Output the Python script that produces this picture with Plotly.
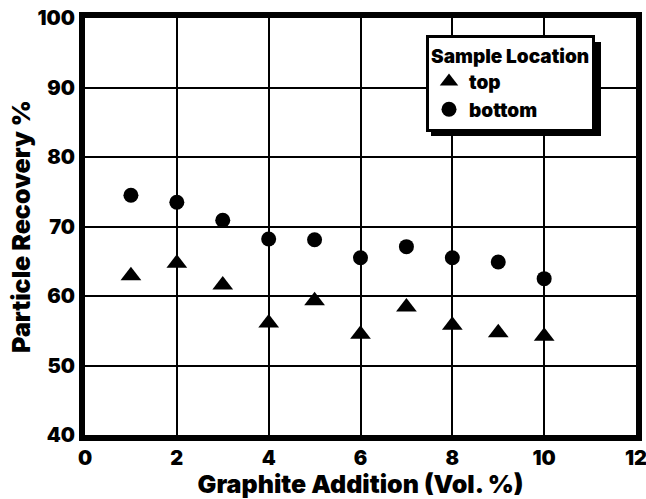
import plotly.graph_objects as go

graphite = [1, 2, 3, 4, 5, 6, 7, 8, 9, 10]
top_recovery = [62.9, 64.7, 61.6, 56.1, 59.3, 54.5, 58.4, 55.8, 54.7, 54.2]
bottom_recovery = [74.5, 73.5, 70.9, 68.2, 68.1, 65.5, 67.1, 65.5, 64.9, 62.5]
x_ticks = [0, 2, 4, 6, 8, 10, 12]
y_ticks = [40, 50, 60, 70, 80, 90, 100]

FONT = "Inter, DejaVu Sans, Liberation Sans, Arial, sans-serif"
W8 = 900

fig = go.Figure()
fig.add_trace(go.Scatter(
    x=graphite, y=top_recovery, mode="markers", name="top",
    marker=dict(symbol="triangle-up", size=18, color="black"),
    cliponaxis=False,
))
fig.add_trace(go.Scatter(
    x=graphite, y=bottom_recovery, mode="markers", name="bottom",
    marker=dict(symbol="circle", size=15, color="black"),
    cliponaxis=False,
))

L, R, T, B = 85, 10, 18, 64
W, H = 646, 499
pw, ph = W - L - R, H - T - B

def px2x(px):
    return (px - L) / pw

def px2y(py):
    return (H - B - py) / ph

# legend drop shadow
fig.add_shape(type="rect", xref="paper", yref="paper",
              x0=px2x(431), x1=px2x(601), y0=px2y(136), y1=px2y(42),
              fillcolor="black", line=dict(width=0), layer="above")

fig.update_layout(
    width=W, height=H,
    margin=dict(l=L, r=R, t=T, b=B, pad=0, autoexpand=False),
    paper_bgcolor="white", plot_bgcolor="white",
    font=dict(family=FONT, color="black", size=17, weight=W8),
    showlegend=True,
    legend=dict(
        title=dict(text="Sample Location", font=dict(size=19, family=FONT, weight=W8)),
        font=dict(size=19, family=FONT, weight=W8),
        x=px2x(426), y=px2y(35), xanchor="left", yanchor="top",
        bgcolor="white", bordercolor="black", borderwidth=3,
    ),
    xaxis=dict(
        range=[0, 12], tickvals=x_ticks, ticktext=[str(v) for v in x_ticks],
        showgrid=True, gridcolor="black", gridwidth=2,
        zeroline=False, showline=True, linecolor="black", linewidth=6, mirror=True,
        ticks="", tickfont=dict(size=20, family=FONT, weight=W8),
        automargin=False, ticklabeloverflow="allow",
        title=dict(text="Graphite Addition (Vol. %)", font=dict(size=25, family=FONT, weight=W8), standoff=16),
    ),
    yaxis=dict(
        range=[40, 100], tickvals=y_ticks, ticktext=[str(v) for v in y_ticks],
        showgrid=True, gridcolor="black", gridwidth=2,
        zeroline=False, showline=True, linecolor="black", linewidth=6, mirror=True,
        ticks="", tickfont=dict(size=20, family=FONT, weight=W8),
        automargin=False, ticklabeloverflow="allow",
        title=dict(text="Particle Recovery %", font=dict(size=25, family=FONT, weight=W8), standoff=2),
    ),
)

fig.write_html("out.html", config={"displayModeBar": False},
               post_script="document.body.style.margin='0';")
